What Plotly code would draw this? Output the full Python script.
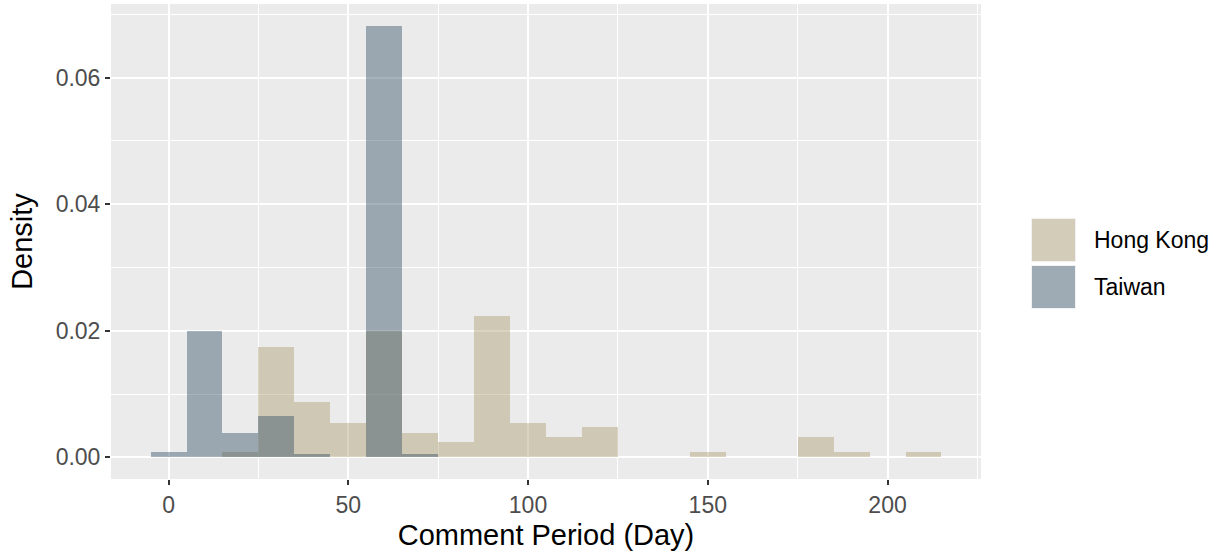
import plotly.graph_objects as go

# Histogram bins (binwidth 10, centred on multiples of 10), density values
bin_centers = [0, 10, 20, 30, 40, 50, 60, 70, 80, 90, 100, 110, 120, 130, 140,
               150, 160, 170, 180, 190, 200, 210]
hong_kong = [0, 0, 0.0008, 0.0174, 0.0087, 0.0054, 0.0200, 0.0038, 0.0025, 0.0223,
             0.0054, 0.0033, 0.0048, 0, 0, 0.0008, 0, 0, 0.0033, 0.0008, 0, 0.0008]
taiwan = [0.0008, 0.0200, 0.0038, 0.0065, 0.0006, 0, 0.0682, 0.0005, 0, 0, 0,
          0, 0, 0, 0, 0, 0, 0, 0, 0, 0, 0]
series_names = ["Hong Kong", "Taiwan"]
x_ticks = [0, 50, 100, 150, 200]
y_ticks = [0, 0.02, 0.04, 0.06]
y_tick_text = ["0.00", "0.02", "0.04", "0.06"]

HK_COLOR = "rgba(170,152,107,0.42)"
TW_COLOR = "rgba(42,75,97,0.42)"
FONT = "Liberation Sans, Arial, sans-serif"

fig = go.Figure()
fig.add_trace(go.Bar(x=bin_centers, y=hong_kong, width=10, name=series_names[0],
                     marker=dict(color=HK_COLOR, line=dict(width=0)), showlegend=False))
fig.add_trace(go.Bar(x=bin_centers, y=taiwan, width=10, name=series_names[1],
                     marker=dict(color=TW_COLOR, line=dict(width=0)), showlegend=False))

fig.update_layout(
    width=1222, height=554,
    barmode="overlay", bargap=0,
    paper_bgcolor="white", plot_bgcolor="#ebebeb",
    margin=dict(l=111, r=241, t=4, b=75),
    font=dict(family=FONT, size=23, color="#4d4d4d"),
    xaxis=dict(
        range=[-16, 226], tickvals=x_ticks, ticktext=[str(v) for v in x_ticks],
        showgrid=True, gridcolor="white", gridwidth=2, zeroline=False, showline=False,
        ticks="outside", ticklen=5, tickwidth=2, tickcolor="#333333",
        tickfont=dict(size=23, color="#4d4d4d"),
        minor=dict(tickvals=[25, 75, 125, 175, 225], showgrid=True, gridcolor="white",
                   gridwidth=1, ticks=""),
        title=dict(text="Comment Period (Day)", font=dict(size=29, color="black"), standoff=8),
        automargin=False,
    ),
    yaxis=dict(
        range=[-0.00341, 0.07161], tickvals=y_ticks, ticktext=y_tick_text,
        showgrid=True, gridcolor="white", gridwidth=2, zeroline=False, showline=False,
        ticks="outside", ticklen=5, tickwidth=2, tickcolor="#333333",
        tickfont=dict(size=23, color="#4d4d4d"),
        minor=dict(tickvals=[0.01, 0.03, 0.05, 0.07], showgrid=True, gridcolor="white",
                   gridwidth=1, ticks=""),
        title=dict(text="Density", font=dict(size=29, color="black"), standoff=14),
        automargin=False,
    ),
)

# Legend drawn manually (large ggplot-style keys)
legend_items = [(series_names[0], HK_COLOR, 218, 262), (series_names[1], TW_COLOR, 265, 309)]
for name, col, y0, y1 in legend_items:
    fig.add_shape(type="rect", xref="paper", yref="paper",
                  x0=(1031 - 111) / 870, x1=(1076 - 111) / 870,
                  y0=(479 - y1) / 475, y1=(479 - y0) / 475,
                  fillcolor="#f2f2f2", line=dict(width=0), layer="above")
    fig.add_shape(type="rect", xref="paper", yref="paper",
                  x0=(1032 - 111) / 870, x1=(1075 - 111) / 870,
                  y0=(479 - y1 + 1) / 475, y1=(479 - y0 - 1) / 475,
                  fillcolor=col, line=dict(width=0), layer="above")
    fig.add_annotation(xref="paper", yref="paper", x=(1092 - 111) / 870,
                       y=(479 - (y0 + y1) / 2) / 475, text=name, showarrow=False,
                       xanchor="left", yanchor="middle",
                       font=dict(family=FONT, size=23, color="black"))

fig.write_html("out.html", config={"displayModeBar": False},
               post_script="document.body.style.margin='0';")
